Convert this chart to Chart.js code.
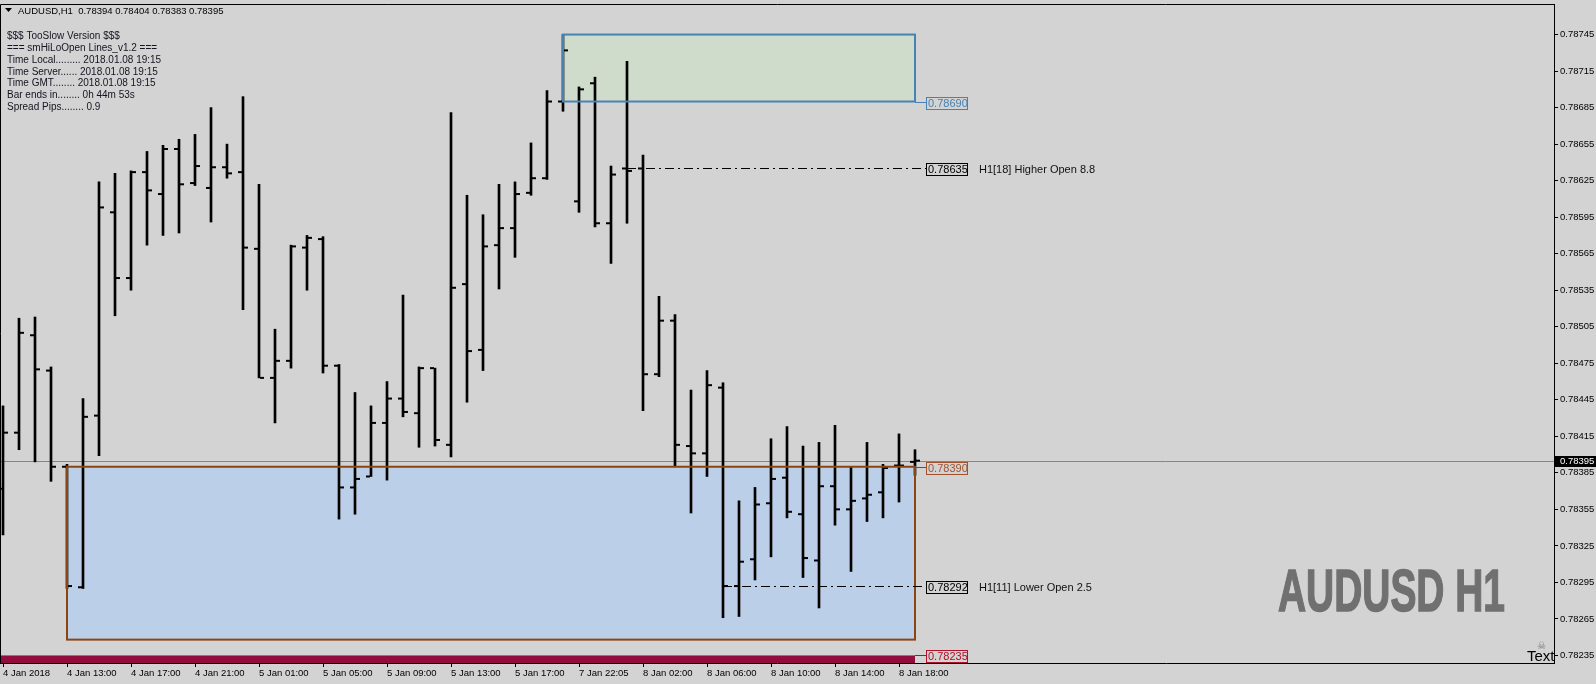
<!DOCTYPE html>
<html>
<head>
<meta charset="utf-8">
<script src="https://cdn.jsdelivr.net/npm/chart.js@4.4.1/dist/chart.umd.min.js"></script>
<style>
  html, body { margin: 0; padding: 0; background: #d3d3d3; overflow: hidden; }
  #chart { display: block; }
</style>
</head>
<body>
<canvas id="chart" width="1596" height="684"></canvas>
<script>
// AUDUSD H1 bars, index 0 = 4 Jan 09:00 ... index 57 = 8 Jan 19:00
const opens = [
  0.78372, 0.78418, 0.78498, 0.78469, 0.78390, 0.78291, 0.78432, 0.78599, 0.78545, 0.78632,
  0.78614, 0.78651, 0.78623, 0.78619, 0.78636, 0.78632, 0.78569, 0.78463, 0.78477, 0.78570,
  0.78577, 0.78473, 0.78373, 0.78382, 0.78426, 0.78446, 0.78434, 0.78471, 0.78408, 0.78540,
  0.78486, 0.78572, 0.78586, 0.78615, 0.78627, 0.78690, 0.78608, 0.78705, 0.78590, 0.78635,
  0.78635, 0.78466, 0.78510, 0.78407, 0.78401, 0.78455, 0.78292, 0.78314, 0.78360, 0.78381,
  0.78351, 0.78313, 0.78374, 0.78355, 0.78364, 0.78369, 0.78391, 0.78394
];
const highs = [
  0.78440, 0.78512, 0.78513, 0.78472, 0.78392, 0.78446, 0.78624, 0.78631, 0.78633, 0.78649,
  0.78654, 0.78659, 0.78663, 0.78685, 0.78655, 0.78694, 0.78622, 0.78503, 0.78572, 0.78580,
  0.78579, 0.78474, 0.78451, 0.78440, 0.78460, 0.78531, 0.78472, 0.78471, 0.78681, 0.78613,
  0.78597, 0.78622, 0.78624, 0.78656, 0.78699, 0.78745, 0.78702, 0.78710, 0.78637, 0.78723,
  0.78646, 0.78530, 0.78515, 0.78453, 0.78469, 0.78459, 0.78362, 0.78373, 0.78413, 0.78423,
  0.78407, 0.78410, 0.78424, 0.78390, 0.78410, 0.78392, 0.78417, 0.78404
];
const lows = [
  0.78334, 0.78404, 0.78394, 0.78378, 0.78290, 0.78290, 0.78399, 0.78514, 0.78535, 0.78572,
  0.78580, 0.78582, 0.78621, 0.78591, 0.78627, 0.78519, 0.78463, 0.78426, 0.78471, 0.78535,
  0.78467, 0.78347, 0.78351, 0.78382, 0.78379, 0.78431, 0.78406, 0.78407, 0.78398, 0.78443,
  0.78469, 0.78536, 0.78562, 0.78613, 0.78626, 0.78682, 0.78599, 0.78587, 0.78557, 0.78590,
  0.78436, 0.78464, 0.78390, 0.78352, 0.78382, 0.78266, 0.78267, 0.78297, 0.78316, 0.78348,
  0.78299, 0.78274, 0.78342, 0.78304, 0.78345, 0.78348, 0.78361, 0.78383
];
const closes = [
  0.78418, 0.78500, 0.78470, 0.78390, 0.78292, 0.78431, 0.78603, 0.78545, 0.78632, 0.78617,
  0.78651, 0.78622, 0.78637, 0.78636, 0.78631, 0.78570, 0.78463, 0.78477, 0.78571, 0.78578,
  0.78473, 0.78373, 0.78380, 0.78426, 0.78446, 0.78435, 0.78471, 0.78412, 0.78537, 0.78485,
  0.78571, 0.78586, 0.78614, 0.78627, 0.78690, 0.78732, 0.78700, 0.78590, 0.78630, 0.78633,
  0.78466, 0.78510, 0.78408, 0.78401, 0.78457, 0.78292, 0.78312, 0.78359, 0.78380, 0.78353,
  0.78315, 0.78374, 0.78355, 0.78362, 0.78367, 0.78389, 0.78391, 0.78395
];

const timeTickIdx = [0, 4, 8, 12, 16, 20, 24, 28, 32, 36, 40, 44, 48, 52, 56];
const timeTickText = [
  '4 Jan 2018', '4 Jan 13:00', '4 Jan 17:00', '4 Jan 21:00', '5 Jan 01:00',
  '5 Jan 05:00', '5 Jan 09:00', '5 Jan 13:00', '5 Jan 17:00', '7 Jan 22:05',
  '8 Jan 02:00', '8 Jan 06:00', '8 Jan 10:00', '8 Jan 14:00', '8 Jan 18:00'
];
const priceTicks = [
  0.78235, 0.78265, 0.78295, 0.78325, 0.78355, 0.78385, 0.78415, 0.78445, 0.78475,
  0.78505, 0.78535, 0.78565, 0.78595, 0.78625, 0.78655, 0.78685, 0.78715, 0.78745
];

// HiLo zones: green = last highs, blue = last lows
const zoneStart = [35, 4];
const zoneEnd = [57, 57];
const zoneTop = [0.78745, 0.78390];
const zoneBottom = [0.78690, 0.78248];
const zoneLabel = [0.78690, 0.78390];

const openLevels = [0.78635, 0.78292];
const openLevelStart = [39, 45];
const openLevelText = ['H1[18] Higher Open 8.8', 'H1[11] Lower Open 2.5'];

const supportLevel = 0.78235;
const bid = 0.78395;
const lastBar = [0.78394, 0.78404, 0.78383, 0.78395];

const infoLines = [
  '$$$ TooSlow Version $$$',
  '=== smHiLoOpen Lines_v1.2 ===',
  'Time Local......... 2018.01.08 19:15',
  'Time Server...... 2018.01.08 19:15',
  'Time GMT........ 2018.01.08 19:15',
  'Bar ends in........ 0h 44m 53s',
  'Spread Pips........ 0.9'
];

const BG = '#d3d3d3';
const AXIS_FONT = { family: '"Liberation Sans", sans-serif', size: 9.5 };
const TICK_SHIFT = 0.1875;
const zoneFill = ['#d0dccb', '#bccfe8'];
const zoneLine = ['#4682b4', '#8b4513'];
const zoneText = ['#4682b4', '#a0522d'];

const crisp = v => Math.round(v) + 0.5;

const drawTag = (ctx, text, xl, yc, color) => {
  const top = Math.round(yc) - 6;
  ctx.fillStyle = BG;
  ctx.fillRect(xl, top, 41, 12);
  ctx.strokeStyle = color;
  ctx.lineWidth = 1;
  ctx.strokeRect(xl + 0.5, top + 0.5, 41, 12);
  ctx.fillStyle = color;
  ctx.font = '11px "Liberation Sans", sans-serif';
  ctx.textBaseline = 'middle';
  ctx.textAlign = 'left';
  ctx.fillText(text, xl + 2, top + 7);
};

const mtOverlay = {
  id: 'mtOverlay',
  beforeDatasetsDraw(chart) {
    const { ctx, chartArea: a, scales: { x, y } } = chart;
    ctx.save();
    ctx.beginPath();
    ctx.rect(a.left, a.top, a.right - a.left, a.bottom - a.top);
    ctx.clip();

    zoneStart.forEach((s, k) => {
      const x1 = x.getPixelForValue(s), x2 = x.getPixelForValue(zoneEnd[k]);
      const y1 = y.getPixelForValue(zoneTop[k]), y2 = y.getPixelForValue(zoneBottom[k]);
      ctx.fillStyle = zoneFill[k];
      ctx.fillRect(x1, y1, x2 - x1, y2 - y1);
    });

    // support band down to the bottom of the window
    const sx2 = x.getPixelForValue(zoneEnd[1]);
    const sy = y.getPixelForValue(supportLevel);
    ctx.fillStyle = '#920c3c';
    ctx.fillRect(a.left, sy, sx2 - a.left, a.bottom - sy);

    // bid line
    const by = crisp(y.getPixelForValue(bid));
    ctx.strokeStyle = '#7c8792';
    ctx.lineWidth = 1;
    ctx.beginPath();
    ctx.moveTo(a.left, by);
    ctx.lineTo(a.right, by);
    ctx.stroke();
    ctx.restore();
  },
  afterDatasetsDraw(chart) {
    const { ctx, chartArea: a, scales: { x, y } } = chart;
    ctx.save();

    // zone frames and their price tags
    zoneStart.forEach((s, k) => {
      const x1 = x.getPixelForValue(s), x2 = x.getPixelForValue(zoneEnd[k]);
      const y1 = y.getPixelForValue(zoneTop[k]), y2 = y.getPixelForValue(zoneBottom[k]);
      ctx.strokeStyle = zoneLine[k];
      ctx.lineWidth = 2;
      ctx.strokeRect(x1, y1, x2 - x1, y2 - y1);
      const ly = crisp(y.getPixelForValue(zoneLabel[k]));
      ctx.lineWidth = 1;
      ctx.beginPath();
      ctx.moveTo(x2, ly);
      ctx.lineTo(x2 + 11, ly);
      ctx.stroke();
      drawTag(ctx, zoneLabel[k].toFixed(5), Math.round(x2) + 11, ly, zoneText[k]);
    });

    // open levels
    const tagX = Math.round(x.getPixelForValue(zoneEnd[0])) + 11;
    openLevels.forEach((lv, k) => {
      const ly = crisp(y.getPixelForValue(lv));
      ctx.strokeStyle = '#000';
      ctx.lineWidth = 1;
      ctx.setLineDash([9, 4, 2, 4]);
      ctx.beginPath();
      ctx.moveTo(x.getPixelForValue(openLevelStart[k]), ly);
      ctx.lineTo(tagX, ly);
      ctx.stroke();
      ctx.setLineDash([]);
      drawTag(ctx, lv.toFixed(5), tagX, ly, '#000');
      ctx.fillStyle = '#111';
      ctx.font = '11px "Liberation Sans", sans-serif';
      ctx.textBaseline = 'middle';
      ctx.fillText(openLevelText[k], tagX + 53, ly + 1);
    });

    // support tag
    const sy = crisp(y.getPixelForValue(supportLevel));
    ctx.strokeStyle = '#b0102a';
    ctx.beginPath();
    ctx.moveTo(tagX - 11, sy);
    ctx.lineTo(tagX, sy);
    ctx.stroke();
    drawTag(ctx, supportLevel.toFixed(5), tagX, sy, '#b0102a');

    // window frame
    ctx.strokeStyle = '#000';
    ctx.lineWidth = 1;
    ctx.beginPath();
    ctx.moveTo(a.left + 0.5, a.bottom);
    ctx.lineTo(a.left + 0.5, a.top + 0.5);
    ctx.lineTo(a.right, a.top + 0.5);
    ctx.stroke();

    // header + info block
    ctx.fillStyle = '#000';
    ctx.textAlign = 'left';
    ctx.textBaseline = 'alphabetic';
    ctx.beginPath();
    ctx.moveTo(5, 8); ctx.lineTo(12, 8); ctx.lineTo(8.5, 12); ctx.closePath();
    ctx.fill();
    ctx.font = '9.5px "Liberation Sans", sans-serif';
    ctx.fillText(`AUDUSD,H1  ${lastBar.map(v => v.toFixed(5)).join(' ')}`, 18, 14);
    ctx.fillStyle = '#141420';
    ctx.font = '10px "Liberation Sans", sans-serif';
    ctx.textBaseline = 'middle';
    infoLines.forEach((t, k) => ctx.fillText(t, 7, 36.5 + k * 11.75));

    // symbol watermark
    ctx.save();
    const mark = 'AUDUSD H1';
    ctx.font = 'bold 60px "Liberation Sans", sans-serif';
    const mw = ctx.measureText(mark).width;
    ctx.translate(1278, 611);
    ctx.scale(227 / mw, 1);
    ctx.textBaseline = 'alphabetic';
    ctx.fillStyle = '#707070';
    ctx.strokeStyle = '#707070';
    ctx.lineWidth = 1.5;
    ctx.fillText(mark, 0, 0);
    ctx.strokeText(mark, 0, 0);
    ctx.restore();

    // little label object near the corner
    ctx.fillStyle = '#7a7a7a';
    ctx.font = '10px "DejaVu Sans", sans-serif';
    ctx.textBaseline = 'middle';
    ctx.fillText('\u2620', 1537, 646);
    ctx.fillStyle = '#000';
    ctx.font = '15px "Liberation Sans", sans-serif';
    ctx.textBaseline = 'alphabetic';
    ctx.fillText('Text', 1527, 661);

    // bid tag on the price scale
    const by = Math.round(y.getPixelForValue(bid));
    ctx.fillStyle = '#000';
    ctx.fillRect(a.right + 1, by - 5, 1596 - a.right, 11);
    ctx.fillStyle = '#fff';
    ctx.font = `${AXIS_FONT.size}px ${AXIS_FONT.family}`;
    ctx.textBaseline = 'middle';
    ctx.fillText(bid.toFixed(5), a.right + 6, by + 0.5);
    ctx.restore();
  }
};

new Chart(document.getElementById('chart'), {
  type: 'bar',
  data: {
    datasets: [
      {
        type: 'bar',
        data: highs.map((h, i) => ({ x: i, y: [lows[i], h] })),
        backgroundColor: '#000',
        borderWidth: 0,
        barThickness: 2
      },
      {
        type: 'scatter',
        data: opens.map((o, i) => ({ x: i - TICK_SHIFT, y: o })),
        pointStyle: 'line',
        pointRadius: 2,
        pointHoverRadius: 2,
        pointBorderWidth: 2,
        pointBorderColor: '#000',
        showLine: false
      },
      {
        type: 'scatter',
        data: closes.map((c, i) => ({ x: i + TICK_SHIFT, y: c })),
        pointStyle: 'line',
        pointRadius: 2,
        pointHoverRadius: 2,
        pointBorderWidth: 2,
        pointBorderColor: '#000',
        showLine: false
      }
    ]
  },
  options: {
    responsive: false,
    animation: false,
    devicePixelRatio: 1,
    layout: { autoPadding: false, padding: { top: 4, left: 0, right: 0, bottom: 0 } },
    plugins: { legend: { display: false }, tooltip: { enabled: false } },
    scales: {
      x: {
        type: 'linear',
        min: -0.1875,
        max: 96.9375,
        offset: false,
        grid: { offset: false, drawOnChartArea: false, tickLength: 4, color: '#000' },
        border: { color: '#000' },
        ticks: {
          align: 'start',
          autoSkip: false,
          maxRotation: 0,
          padding: 1,
          color: '#000',
          font: AXIS_FONT,
          callback: (v, i) => timeTickText[i]
        },
        afterBuildTicks: s => { s.ticks = timeTickIdx.map(v => ({ value: v })); },
        afterFit: s => { s.height = 21; s.paddingLeft = 0; s.paddingRight = 0; }
      },
      y: {
        position: 'right',
        min: 0.782288,
        max: 0.787701,
        grid: { drawOnChartArea: false, tickLength: 4, color: '#000' },
        border: { color: '#000' },
        ticks: {
          padding: 2,
          color: '#000',
          font: AXIS_FONT,
          callback: v => v.toFixed(5)
        },
        afterBuildTicks: s => { s.ticks = priceTicks.map(v => ({ value: v })); },
        afterFit: s => { s.width = 42; s.paddingTop = 0; s.paddingBottom = 0; }
      }
    }
  },
  plugins: [mtOverlay]
});
</script>
</body>
</html>
